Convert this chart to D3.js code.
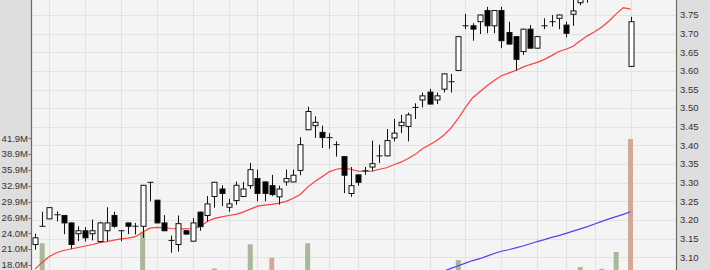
<!DOCTYPE html>
<html><head><meta charset="utf-8">
<script src="https://cdn.jsdelivr.net/npm/d3@7"></script>
<style>html,body{margin:0;padding:0;background:#f4f4f4;overflow:hidden}svg{display:block}</style>
</head><body>
<svg id="chart" width="710" height="270"></svg>
<script>
// ---- data ----
const opens  = [3.134,3.183,3.203,3.214,3.212,3.192,3.163,3.171,3.163,3.142,3.171,3.212,3.171,3.192,3.183,3.183,3.301,3.253,3.192,3.145,3.134,3.171,3.143,3.221,3.212,3.263,3.283,3.234,3.252,3.263,3.292,3.311,3.302,3.292,3.262,3.302,3.302,3.333,3.442,3.453,3.435,3.421,3.402,3.370,3.271,3.321,3.332,3.342,3.372,3.372,3.420,3.453,3.451,3.502,3.522,3.543,3.522,3.551,3.571,3.601,3.721,3.721,3.732,3.762,3.721,3.762,3.703,3.692,3.652,3.712,3.661,3.721,3.732,3.741,3.723,3.752,3.783,3.830,3.860,3.900,3.930,3.880,3.950,3.612];
const highs  = [3.163,3.222,3.234,3.223,3.212,3.193,3.183,3.181,3.201,3.195,3.234,3.222,3.171,3.192,3.192,3.294,3.302,3.253,3.213,3.158,3.212,3.172,3.205,3.222,3.264,3.302,3.293,3.257,3.303,3.302,3.353,3.335,3.303,3.321,3.292,3.335,3.335,3.422,3.504,3.478,3.453,3.433,3.411,3.371,3.342,3.322,3.342,3.413,3.402,3.444,3.471,3.482,3.488,3.513,3.542,3.552,3.542,3.593,3.592,3.693,3.753,3.728,3.751,3.772,3.762,3.772,3.732,3.693,3.713,3.723,3.693,3.741,3.750,3.751,3.732,3.800,3.850,3.880,3.920,3.950,3.950,3.970,3.980,3.745];
const lows   = [3.120,3.183,3.202,3.196,3.162,3.122,3.143,3.142,3.145,3.140,3.143,3.179,3.143,3.162,3.161,3.152,3.250,3.191,3.170,3.112,3.115,3.161,3.142,3.171,3.196,3.233,3.237,3.222,3.241,3.261,3.283,3.250,3.250,3.264,3.241,3.292,3.301,3.320,3.441,3.420,3.393,3.391,3.370,3.272,3.262,3.292,3.321,3.332,3.353,3.371,3.411,3.433,3.411,3.471,3.502,3.510,3.511,3.542,3.542,3.600,3.712,3.681,3.699,3.701,3.701,3.661,3.671,3.601,3.643,3.660,3.660,3.712,3.719,3.712,3.690,3.721,3.776,3.783,3.840,3.880,3.860,3.870,3.900,3.611];
const closes = [3.152,3.183,3.233,3.214,3.192,3.134,3.171,3.152,3.171,3.192,3.192,3.183,3.171,3.183,3.183,3.293,3.301,3.192,3.171,3.145,3.190,3.162,3.192,3.182,3.243,3.301,3.271,3.243,3.293,3.283,3.335,3.271,3.271,3.268,3.283,3.311,3.320,3.402,3.491,3.462,3.421,3.421,3.402,3.320,3.292,3.301,3.332,3.351,3.372,3.413,3.433,3.462,3.482,3.502,3.533,3.511,3.533,3.592,3.571,3.692,3.721,3.712,3.750,3.721,3.762,3.681,3.672,3.631,3.712,3.661,3.692,3.721,3.732,3.750,3.701,3.761,3.830,3.860,3.900,3.930,3.880,3.950,3.920,3.732];
// volume in millions
const volumes = [12.4,22.06,11.8,9.6,10.2,14.1,8.7,9.3,7.9,10.8,12.2,9.1,8.4,7.6,9.9,24.25,15.3,13.1,10.4,11.6,12.9,8.2,10.7,9.4,13.6,17.3,12.1,9.0,14.2,11.3,21.87,15.8,12.6,19.34,11.9,10.1,9.7,16.2,22.06,14.4,13.0,10.6,11.2,15.9,12.8,10.3,8.8,11.7,9.5,13.4,12.0,10.9,14.6,11.1,12.5,13.8,10.6,15.1,12.3,18.9,16.4,13.2,14.0,15.6,12.7,16.1,13.5,15.4,14.8,12.9,11.5,10.2,11.9,12.6,13.3,14.5,17.58,16.3,15.7,17.24,16.0,20.42,16.6,41.78];
// short moving average (red)
const maShort = [3.068,3.086,3.102,3.112,3.118,3.122,3.126,3.130,3.134,3.139,3.142,3.146,3.149,3.151,3.155,3.167,3.178,3.180,3.179,3.177,3.176,3.176,3.177,3.182,3.196,3.204,3.208,3.212,3.215,3.221,3.229,3.237,3.240,3.242,3.245,3.250,3.258,3.269,3.288,3.303,3.316,3.329,3.336,3.339,3.336,3.331,3.330,3.331,3.336,3.340,3.348,3.355,3.365,3.376,3.391,3.402,3.413,3.428,3.447,3.473,3.502,3.528,3.544,3.560,3.574,3.587,3.594,3.601,3.610,3.617,3.623,3.631,3.641,3.652,3.658,3.666,3.681,3.694,3.705,3.718,3.734,3.753,3.770,3.766];
// long moving average (blue), starts at day 55
const maLongStart = 55;
const maLong = [3.049,3.056,3.063,3.070,3.077,3.084,3.091,3.096,3.103,3.110,3.116,3.120,3.125,3.130,3.136,3.142,3.147,3.153,3.158,3.164,3.170,3.176,3.182,3.189,3.196,3.203,3.209,3.215,3.222];
const weekStarts = [2,7,12,17,22,27,31,36,41,45,50,55,60,65,70,74,78,83];
const priceTicks = [3.10,3.15,3.20,3.25,3.30,3.35,3.40,3.45,3.50,3.55,3.60,3.65,3.70,3.75];
const gridPrices = [3.05,3.10,3.15,3.20,3.25,3.30,3.35,3.40,3.45,3.50,3.55,3.60,3.65,3.70,3.75];
const volumeTicks = [17.96,20.96,23.96,26.94,29.94,32.93,35.93,38.92,41.92];
const volumeTickLabels = ['18.0M','21.0M','24.0M','26.9M','29.9M','32.9M','35.9M','38.9M','41.9M'];

// ---- layout ----
const W = 710, H = 270;
const plotL = 32, plotR = 676;
const svg = d3.select('#chart');

const x = d3.scaleLinear().domain([0, 83]).range([35, 630.5]);
const y = d3.scaleLinear().domain([3.10, 3.75]).range([257.2, 15]);
const yv = d3.scaleLinear().domain([17.96, 41.92]).range([265, 138.3]);

svg.append('rect').attr('x',0).attr('y',0).attr('width',W).attr('height',H).attr('fill','#f4f4f4');

svg.append('defs').append('clipPath').attr('id','plotclip')
  .append('rect').attr('x',plotL).attr('y',0).attr('width',plotR-plotL).attr('height',H);

const plot = svg.append('g').attr('clip-path','url(#plotclip)');

// grid
plot.selectAll('line.hg').data(gridPrices).join('line').attr('class','hg')
  .attr('x1',plotL).attr('x2',plotR)
  .attr('y1',d=>Math.round(y(d))+0.5).attr('y2',d=>Math.round(y(d))+0.5)
  .attr('stroke','#e3e3e3').attr('stroke-width',1.2);
plot.selectAll('line.vg').data(weekStarts).join('line').attr('class','vg')
  .attr('x1',d=>Math.round(x(d))+0.5).attr('x2',d=>Math.round(x(d))+0.5)
  .attr('y1',0).attr('y2',H)
  .attr('stroke','#e3e3e3').attr('stroke-width',1.2);

const idx = d3.range(opens.length);

// volume bars
plot.selectAll('rect.vol').data(idx).join('rect').attr('class','vol')
  .attr('x',i=>x(i)-2.5).attr('width',5)
  .attr('y',i=>yv(volumes[i])).attr('height',i=>yv(0)-yv(volumes[i]))
  .attr('fill',i=> (i===0 || closes[i] >= closes[i-1]) ? '#a8b898' : '#d4a898');

// moving averages
const lineShort = d3.line().x((d,i)=>x(i)).y(d=>y(d)).curve(d3.curveLinear);
plot.append('path').datum(maShort).attr('d',lineShort)
  .attr('fill','none').attr('stroke','#ff4040').attr('stroke-width',1.2);
const lineLong = d3.line().x((d,i)=>x(i+maLongStart)).y(d=>y(d));
plot.append('path').datum(maLong).attr('d',lineLong)
  .attr('fill','none').attr('stroke','#5a3cf0').attr('stroke-width',1.2);

// candles
const cg = plot.selectAll('g.candle').data(idx).join('g').attr('class','candle');
cg.append('line')
  .attr('x1',i=>Math.round(x(i))+0.5).attr('x2',i=>Math.round(x(i))+0.5)
  .attr('y1',i=>y(highs[i])).attr('y2',i=>y(lows[i]))
  .attr('stroke','#111').attr('stroke-width',1);
cg.each(function(i){
  const g = d3.select(this);
  const cx = Math.round(x(i))+0.5;
  const top = y(Math.max(opens[i],closes[i]));
  const bot = y(Math.min(opens[i],closes[i]));
  if (Math.abs(bot-top) < 1.2) {
    g.append('line').attr('x1',cx-3).attr('x2',cx+3).attr('y1',(top+bot)/2).attr('y2',(top+bot)/2)
      .attr('stroke','#111').attr('stroke-width',1);
  } else {
    g.append('rect').attr('x',cx-2.5).attr('y',top).attr('width',5).attr('height',bot-top)
      .attr('fill', closes[i] > opens[i] ? '#ffffff' : '#000000')
      .attr('stroke','#111').attr('stroke-width',1);
  }
});

// left panel (volume axis)
svg.append('rect').attr('x',0).attr('y',0).attr('width',plotL).attr('height',H).attr('fill','#dedede');
svg.append('line').attr('x1',31.5).attr('x2',31.5).attr('y1',0).attr('y2',H).attr('stroke','#66705f').attr('stroke-width',1.2);
const lax = svg.append('g');
lax.selectAll('text').data(volumeTicks).join('text')
  .attr('x',28).attr('y',d=>yv(d)).attr('dy','0.35em').attr('text-anchor','end')
  .attr('font-family','Liberation Sans, Arial, sans-serif').attr('font-size',9.5).attr('fill','#333')
  .text((d,i)=>volumeTickLabels[i]);
lax.selectAll('line').data(volumeTicks).join('line')
  .attr('x1',28.5).attr('x2',31).attr('y1',d=>Math.round(yv(d))+0.5).attr('y2',d=>Math.round(yv(d))+0.5)
  .attr('stroke','#777').attr('stroke-width',1);

// right panel (price axis)
svg.append('rect').attr('x',plotR).attr('y',0).attr('width',W-plotR).attr('height',H).attr('fill','#dedede');
svg.append('line').attr('x1',plotR+0.5).attr('x2',plotR+0.5).attr('y1',0).attr('y2',H).attr('stroke','#66705f').attr('stroke-width',1.2);
const rax = svg.append('g');
rax.selectAll('text').data(priceTicks).join('text')
  .attr('x',680).attr('y',d=>y(d)).attr('dy','0.35em').attr('text-anchor','start')
  .attr('font-family','Liberation Sans, Arial, sans-serif').attr('font-size',9.5).attr('fill','#333')
  .text(d=>d3.format('.2f')(d));
</script>
</body></html>
